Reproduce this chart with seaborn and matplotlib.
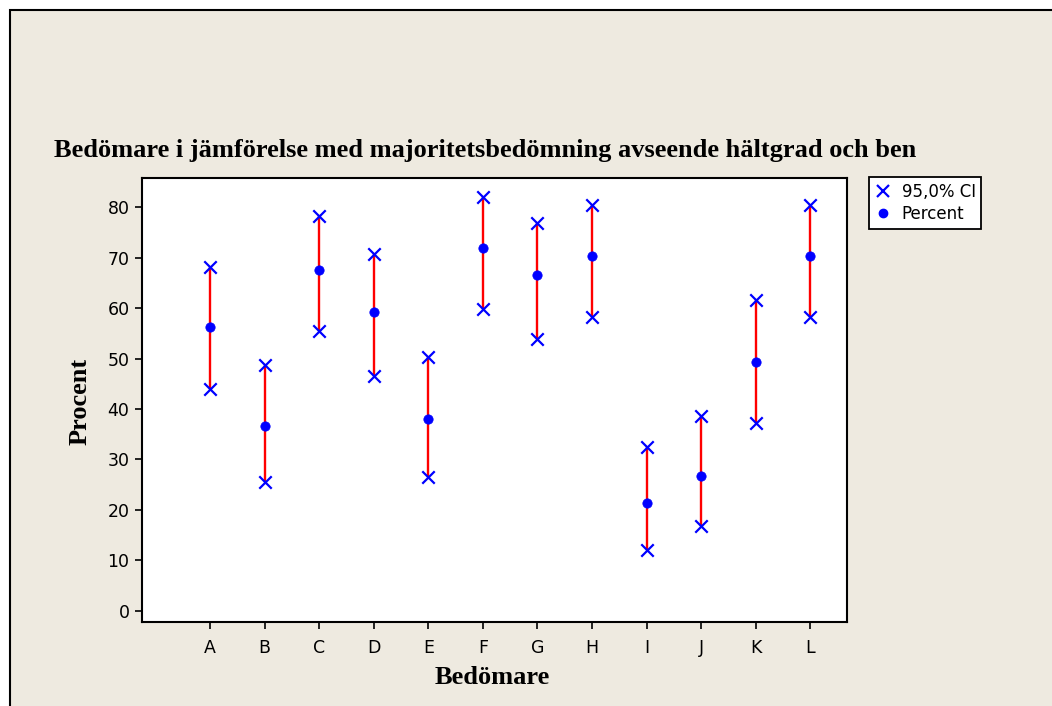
import numpy as np
import pandas as pd
import matplotlib
matplotlib.use("Agg")
import matplotlib.pyplot as plt
from matplotlib.patches import Rectangle
from matplotlib.lines import Line2D
import seaborn as sns

# data
bedomare = ["A", "B", "C", "D", "E", "F", "G", "H", "I", "J", "K", "L"]
percent = [56.3, 36.6, 67.5, 59.2, 38.1, 72.0, 66.5, 70.4, 21.3, 26.8, 49.3, 70.4]
ci_low = [44.0, 25.5, 55.4, 46.6, 26.6, 59.8, 53.9, 58.3, 12.0, 16.8, 37.2, 58.3]
ci_high = [68.1, 48.8, 78.2, 70.7, 50.3, 82.0, 76.9, 80.5, 32.4, 38.6, 61.6, 80.5]
yticks = [0, 10, 20, 30, 40, 50, 60, 70, 80]

BG = "#EEEAE0"
pos = np.arange(1, len(bedomare) + 1)
df = pd.DataFrame({"pos": pos, "namn": bedomare, "percent": percent,
                   "low": ci_low, "high": ci_high})
ci = pd.concat([df[["pos", "low"]].rename(columns={"low": "v"}),
                df[["pos", "high"]].rename(columns={"high": "v"})])

sns.set_style("white")
plt.rcParams["font.family"] = ["DejaVu Sans"]
plt.rcParams["text.color"] = "black"

fig = plt.figure(figsize=(10.52, 7.06), dpi=100, facecolor="white")
# beige frame, cut off on right and bottom as in the original
fig.patches.append(Rectangle((10 / 1052, -0.05), 1.1, (706 - 10) / 706 + 0.05,
                             transform=fig.transFigure, facecolor=BG,
                             edgecolor="black", lw=1.5, zorder=-5))

ax = fig.add_axes([142 / 1052, 84 / 706, 705 / 1052, 444 / 706])
ax.set_facecolor("white")

ax.vlines(df["pos"], df["low"], df["high"], color="red", lw=1.7, zorder=2)
sns.scatterplot(data=ci, x="pos", y="v", ax=ax, marker="x", color="blue",
                s=80, linewidth=1.6, zorder=3, legend=False)
sns.scatterplot(data=df, x="pos", y="percent", ax=ax, marker="o", color="blue",
                s=45, edgecolor="blue", zorder=4, legend=False)

ax.set_xlim(-0.245, 12.67)
ax.set_ylim(-2.24, 85.8)
ax.set_xticks(pos)
ax.set_xticklabels(bedomare)
ax.set_yticks(yticks)
ax.tick_params(axis="both", direction="out", length=5, width=1.2,
               colors="black", labelsize=12.5, pad=4)
ax.tick_params(axis="x", bottom=True, pad=7)
ax.tick_params(axis="y", left=True)
for s in ax.spines.values():
    s.set_color("black")
    s.set_linewidth(1.5)
ax.set_xlabel("")
ax.set_ylabel("")

serif = ["Liberation Serif", "DejaVu Serif"]
fig.text(485 / 1052, 1 - 150 / 706,
         "Bedömare i jämförelse med majoritetsbedömning avseende hältgrad och ben",
         ha="center", va="center", fontsize=19, fontweight="bold", family=serif)
fig.text(492 / 1052, 1 - 677 / 706, "Bedömare", ha="center", va="center",
         fontsize=19, fontweight="bold", family=serif)
fig.text(80 / 1052, 1 - 401 / 706, "Procent", ha="center", va="center",
         rotation=90, fontsize=19, fontweight="bold", family=serif)

handles = [Line2D([], [], ls="none", marker="x", color="blue", ms=9, mew=1.6),
           Line2D([], [], ls="none", marker="o", color="blue", ms=6)]
leg = fig.legend(handles, ["95,0% CI", "Percent"], loc="upper left",
                 bbox_to_anchor=(869 / 1052, 1 - 177 / 706), frameon=True,
                 fancybox=False, edgecolor="black", framealpha=1,
                 fontsize=12, handlelength=1.0, handletextpad=0.6,
                 borderpad=0.35, labelspacing=0.25, borderaxespad=0)
leg.get_frame().set_linewidth(1.3)

fig.savefig("out.png", dpi=100, facecolor="white")
